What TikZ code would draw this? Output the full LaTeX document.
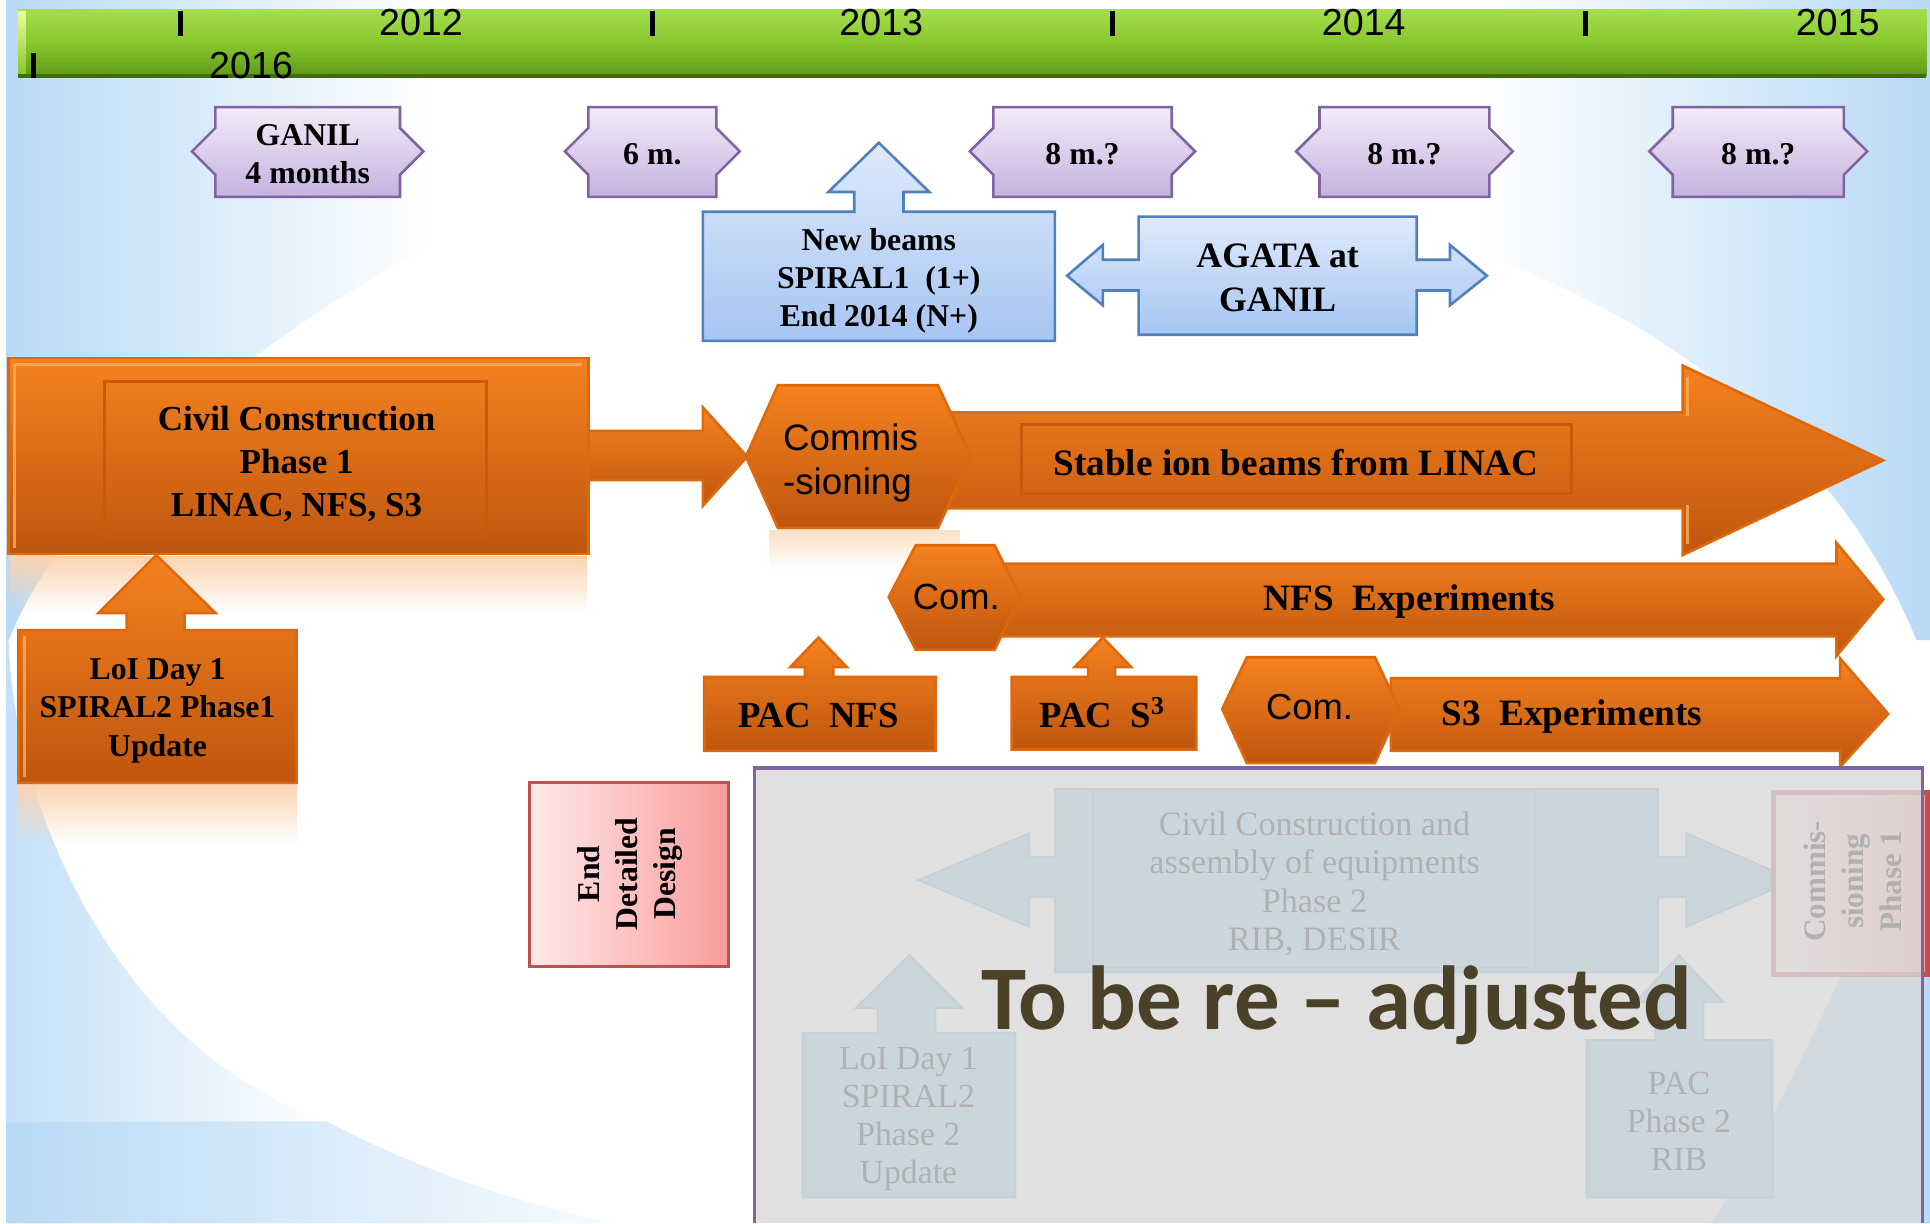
\documentclass[tikz,border=0pt]{standalone}
\usepackage{fontspec}
\setmainfont{Liberation Serif}
\newfontfamily\arialf{Liberation Sans}
\newfontfamily\calibf{Carlito}
\usetikzlibrary{fadings}
\definecolor{orTop}{HTML}{F58220}
\definecolor{orBot}{HTML}{BF560E}
\definecolor{orLine}{HTML}{E0680A}
\definecolor{orIn}{HTML}{C85A0C}
\definecolor{orHi}{HTML}{FBAE5C}
\definecolor{puTop}{HTML}{F2ECF9}
\definecolor{puBot}{HTML}{C6B1DF}
\definecolor{puLine}{HTML}{8064A2}
\definecolor{blTop}{HTML}{DFEAFC}
\definecolor{blBot}{HTML}{A6C5F2}
\definecolor{blLine}{HTML}{4F81BD}
\definecolor{bgBlue}{HTML}{B8DAF6}
\definecolor{grTop}{HTML}{A4DE4C}
\definecolor{grMid}{HTML}{88C72E}
\definecolor{grBot}{HTML}{5E9916}
\definecolor{pkLine}{HTML}{C0504D}
\definecolor{pkR}{HTML}{FA9C9C}
\definecolor{pkL}{HTML}{FFE8E8}
\definecolor{tba}{HTML}{4A4128}
\definecolor{fadeBlue}{HTML}{86C4E8}
\definecolor{grayov}{HTML}{DADADA}
\newcommand\fs[2]{\fontsize{#1}{#2}\selectfont}
\tikzset{
  orshape/.style={top color=orTop, bottom color=orBot, draw=orLine, line width=0.6pt},
  pushape/.style={top color=puTop, bottom color=puBot, draw=puLine, line width=0.6pt},
  blshape/.style={top color=blTop, bottom color=blBot, draw=blLine, line width=0.6pt},
  pkshape/.style={left color=pkL, right color=pkR, draw=pkLine, line width=0.7pt},
  fadeshape/.style={fill=fadeBlue, draw=fadeBlue!85!black, line width=0.4pt},
  lbl/.style={align=center, inner sep=0pt},
  tick/.style={line width=1.15pt, black},
  hilite/.style={orHi, line width=0.6pt, opacity=0.8},
  refl/.style={path fading=south}
}
\newcommand\purplebox[4]{%
  \draw[pushape] (#2,87) -- (#3,87) -- (#3,104) -- (#3+19,123) -- (#3,142) -- (#3,160)
     -- (#2,160) -- (#2,142) -- (#2-19,123) -- (#2,104) -- cycle;
  \node[lbl, font=\bfseries\fs{7.34pt}{8.8pt}] (#1) at ({(#2+#3)/2},125.5) {#4};}
\begin{document}
\begin{tikzpicture}[x=0.01cm, y=-0.01cm]
\useasboundingbox (0,0) rectangle (1568,994);
% ---------- background ----------
\fill[white] (0,0) rectangle (1568,994);
\shade[left color=bgBlue, right color=white] (5,0) -- (350,0) -- (350,200)
   .. controls (230,260) and (60,390) .. (7,520) -- (5,520) -- cycle;
\shade[left color=bgBlue!85, right color=white] (5,520) -- (7,520)
   .. controls (10,650) and (90,850) .. (265,911) -- (5,911) -- cycle;
\shade[left color=bgBlue, right color=bgBlue!10] (5,911) -- (265,911)
   .. controls (350,955) and (430,980) .. (500,994) -- (5,994) -- cycle;
\shade[left color=white, right color=bgBlue] (1200,0) -- (1200,205)
   .. controls (1380,270) and (1500,380) .. (1557,520) -- (1568,520) -- (1568,0) -- cycle;
\fill[bgBlue] (1568,640) .. controls (1500,780) and (1450,900) .. (1390,994) -- (1568,994) -- cycle;
% ---------- timeline bar ----------
\shade[top color=grTop, bottom color=grBot, middle color=grMid] (15,8) rectangle (1565,62);
\draw[grBot!70!black, line width=0.9pt] (15,61.5) -- (1565,61.5);
\shade[top color=green!20!yellow!40, bottom color=grMid] (15,9) rectangle (21,60);
\draw[tick] (147,9) -- (147,29);
\draw[tick] (530,9) -- (530,29);
\draw[tick] (904,9) -- (904,29);
\draw[tick] (1288,9) -- (1288,29);
\draw[tick] (27,43) -- (27,63);
\node[lbl, font=\arialf\fs{8.7pt}{10pt}] (y2012) at (342,18) {2012};
\node[lbl, font=\arialf\fs{8.7pt}{10pt}] (y2013) at (716,18) {2013};
\node[lbl, font=\arialf\fs{8.7pt}{10pt}] (y2014) at (1108,18) {2014};
\node[lbl, font=\arialf\fs{8.7pt}{10pt}] (y2015) at (1493,18) {2015};
\node[lbl, font=\arialf\fs{8.7pt}{10pt}] (y2016) at (204,53) {2016};
% ---------- purple period boxes ----------
\purplebox{ganil}{175}{325}{GANIL\\4 months}
\purplebox{sixm}{478}{582}{6 m.}
\purplebox{eightA}{807}{952}{8 m.?}
\purplebox{eightB}{1072}{1210}{8 m.?}
\purplebox{eightC}{1359}{1498}{8 m.?}
% ---------- blue callouts ----------
\draw[blshape] (571,172) -- (694,172) -- (694,156) -- (673,156) -- (714,116) -- (755,156)
   -- (734,156) -- (734,172) -- (857,172) -- (857,277) -- (571,277) -- cycle;
\node[lbl, font=\bfseries\fs{7.34pt}{8.8pt}] (newbeams) at (714,228)
   {New beams\\SPIRAL1~~(1+)\\End 2014 (N+)};
\draw[blshape] (925,176) -- (1151,176) -- (1151,211) -- (1178,211) -- (1178,199) -- (1208,224)
   -- (1178,248) -- (1178,236) -- (1151,236) -- (1151,272) -- (925,272) -- (925,236)
   -- (896,236) -- (896,248) -- (867,224) -- (896,199) -- (896,211) -- (925,211) -- cycle;
\node[lbl, font=\bfseries\fs{8.25pt}{10.2pt}] (agata) at (1038,225.5) {AGATA at\\GANIL};
% ---------- reflections ----------
\fill[orTop!35, refl] (8,452) rectangle (477,497);
\fill[orTop!35, refl] (15,637) rectangle (241,685);
\fill[orTop!25, refl] (625,431) rectangle (780,462);
% ---------- orange: phase 1 ----------
\draw[orshape] (470,350) -- (571,350) -- (571,331) -- (607,371) -- (571,411) -- (571,390) -- (470,390) -- cycle;
\draw[orshape] (7,291) rectangle (478,450);
\draw[hilite] (12,296) -- (12,445);
\draw[hilite] (12,296) -- (473,296);
\draw[orIn, line width=0.7pt] (85,310) rectangle (395,437);
\node[lbl, font=\bfseries\fs{8.1pt}{9.96pt}] (civil) at (241,377)
   {Civil Construction\\Phase 1\\LINAC, NFS, S3};
\draw[orshape] (770,335) -- (1367,335) -- (1367,297) -- (1530,374) -- (1367,451) -- (1367,413) -- (770,413) -- cycle;
\draw[hilite] (1371,306) -- (1371,338);
\draw[hilite] (1371,410) -- (1371,442);
\draw[orIn, line width=0.7pt] (830,345) rectangle (1277,401);
\node[lbl, font=\bfseries\fs{8.6pt}{10pt}] (stable) at (1053,376) {Stable ion beams from LINAC};
\draw[orshape] (606,371) -- (632,313) -- (762,313) -- (789,371) -- (762,429) -- (632,429) -- cycle;
\node[lbl, align=left, font=\arialf\fs{8.5pt}{10.2pt}] (commis) at (691,376) {Commis\\-sioning};
% NFS
\draw[orshape] (815,458) -- (1492,458) -- (1492,441) -- (1530,487) -- (1492,533) -- (1492,517) -- (815,517) -- cycle;
\draw[orshape] (722,485) -- (744,443) -- (808,443) -- (829,485) -- (808,528) -- (744,528) -- cycle;
\node[lbl, font=\arialf\fs{8.4pt}{10pt}] (comnfs) at (777,485) {Com.};
\node[lbl, font=\bfseries\fs{8.6pt}{10pt}] (nfsexp) at (1145,489) {NFS~~Experiments};
% S3
\draw[orshape] (1130,551) -- (1495,551) -- (1495,535) -- (1534,580) -- (1495,623) -- (1495,610) -- (1130,610) -- cycle;
\draw[orshape] (993,576) -- (1013,534) -- (1117,534) -- (1137,576) -- (1117,620) -- (1013,620) -- cycle;
\node[lbl, font=\arialf\fs{8.4pt}{10pt}] (coms3) at (1064,574) {Com.};
\node[lbl, font=\bfseries\fs{8.6pt}{10pt}] (s3exp) at (1277,582) {S3~~Experiments};
% PAC boxes
\draw[orshape] (572,550) -- (654,550) -- (654,542) -- (642,542) -- (665,518) -- (688,542) -- (677,542)
   -- (677,550) -- (760,550) -- (760,610) -- (572,610) -- cycle;
\node[lbl, font=\bfseries\fs{8.5pt}{10pt}] (pacnfs) at (665,581) {PAC~~NFS};
\draw[orshape] (822,550) -- (884,550) -- (884,542) -- (873,542) -- (896,518) -- (919,542) -- (906,542)
   -- (906,550) -- (972,550) -- (972,609) -- (822,609) -- cycle;
\node[lbl, font=\bfseries\fs{8.5pt}{10pt}] (pacs3) at (896,579) {PAC~~S\textsuperscript{3}};
% LoI
\draw[orshape] (15,512) -- (103,512) -- (103,498) -- (80,498) -- (127,451) -- (175,498) -- (150,498)
   -- (150,512) -- (241,512) -- (241,636) -- (15,636) -- cycle;
\draw[hilite] (20,517) -- (20,631);
\node[lbl, font=\bfseries\fs{7.34pt}{8.8pt}] (loi) at (128,577.5) {LoI Day 1\\SPIRAL2 Phase1\\Update};
% End detailed design
\draw[pkshape] (430,636) rectangle (592,785);
\node[lbl, rotate=90, font=\bfseries\fs{7.34pt}{8.8pt}] (enddd) at (512,710) {End\\Detailed\\Design};
% ---------- faded phase 2 ----------
\draw[fadeshape] (857,641) -- (1347,641) -- (1347,696) -- (1370,696) -- (1370,677) -- (1458,715)
   -- (1370,753) -- (1370,729) -- (1347,729) -- (1347,790) -- (857,790) -- (857,729) -- (836,729)
   -- (836,753) -- (746,715) -- (836,677) -- (836,696) -- (857,696) -- cycle;
\draw[fadeBlue!85!black, line width=0.4pt] (888,643) rectangle (1247,786);
\node[lbl, font=\fs{7.9pt}{8.8pt}] (civil2) at (1068,718)
   {Civil Construction and\\assembly of equipments\\Phase 2\\RIB, DESIR};
\draw[fadeshape] (652,839) -- (713,839) -- (713,819) -- (695,819) -- (739,776) -- (782,819) -- (760,819)
   -- (760,839) -- (825,839) -- (825,973) -- (652,973) -- cycle;
\node[lbl, font=\fs{7.8pt}{8.8pt}] (loi2) at (738,909) {LoI Day 1\\SPIRAL2\\Phase 2\\Update};
\draw[fadeshape] (1289,845) -- (1345,845) -- (1345,814) -- (1329,814) -- (1364,776) -- (1400,814) -- (1384,814)
   -- (1384,845) -- (1440,845) -- (1440,973) -- (1289,973) -- cycle;
\node[lbl, font=\fs{7.8pt}{8.8pt}] (pac2) at (1364,911) {PAC\\Phase 2\\RIB};
\draw[pkshape, line width=1.2pt] (1441,644) rectangle (1566,792);
\node[lbl, rotate=90, font=\bfseries\fs{7.2pt}{8.8pt}] (commis1) at (1505,716) {Commis-\\sioning\\Phase 1};
% gray overlay
\fill[grayov, fill opacity=0.81] (613,624) rectangle (1562,994);
\draw[puLine, line width=0.8pt] (613,994) -- (613,624) -- (1562,624) -- (1562,994);
\node[anchor=base, inner sep=0pt, font=\calibf\bfseries\fs{21pt}{25pt}, text=tba] (tba) at (1086,836) {To be re – adjusted};
\end{tikzpicture}
\end{document}
